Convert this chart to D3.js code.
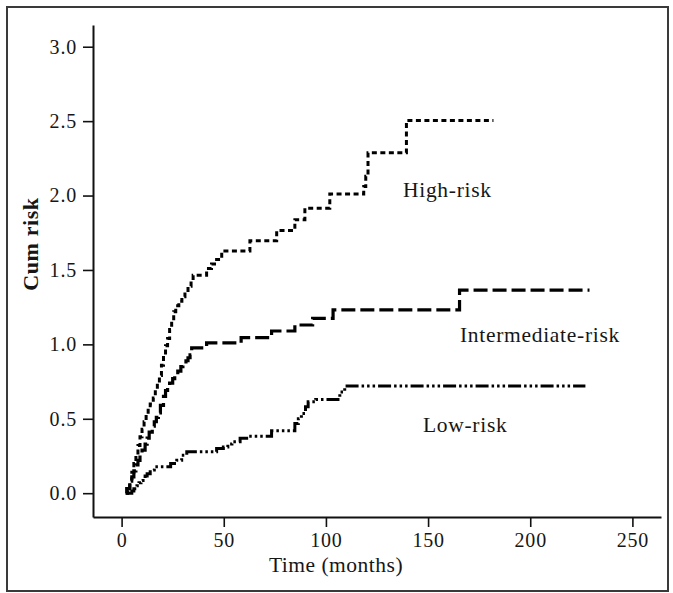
<!DOCTYPE html>
<html><head><meta charset="utf-8">
<script src="https://cdn.jsdelivr.net/npm/d3@7"></script>
<style>
html,body{margin:0;padding:0;background:#fff;}
svg{display:block;}
text{font-family:"Liberation Serif","Times New Roman",serif;fill:#161616;}
</style></head>
<body>
<svg id="chart" width="673" height="593"></svg>
<script>
// ---- data ----
const xTicks = [0, 50, 100, 150, 200, 250];
const yTicks = [0.0, 0.5, 1.0, 1.5, 2.0, 2.5, 3.0];

const highTime = [2, 3, 4, 5, 6, 7, 8, 9, 10, 11, 12, 13, 14, 15.5, 16.5, 17.5, 18.5, 19.5, 20.5, 21.5, 22.5, 23.5, 24.5, 25.5, 26.5, 28, 29.5, 31, 32.5, 34, 35, 41.6, 44, 46.5, 49, 62.8, 75.9, 84.8, 89.7, 101.9, 118.5, 119.5, 120.6, 139.4, 182];
const highRisk = [0, 0.04, 0.08, 0.14, 0.20, 0.26, 0.32, 0.38, 0.43, 0.48, 0.53, 0.57, 0.60, 0.64, 0.70, 0.74, 0.79, 0.86, 0.93, 0.99, 1.04, 1.10, 1.16, 1.22, 1.26, 1.29, 1.32, 1.35, 1.39, 1.43, 1.465, 1.51, 1.54, 1.57, 1.628, 1.696, 1.765, 1.838, 1.915, 2.01, 2.06, 2.13, 2.287, 2.505, 2.505];

const interTime = [2, 2.5, 4, 5, 6, 7, 8, 9, 10, 11.5, 12.5, 13.5, 15, 16, 17, 18, 19, 20.5, 21.5, 22.5, 23.5, 25, 26, 27.5, 29, 30, 31.5, 32.5, 33.5, 34.3, 41.6, 58.5, 73.4, 84.8, 93.5, 103.5, 165.4, 229];
const interRisk = [0, 0.03, 0.07, 0.11, 0.15, 0.19, 0.22, 0.26, 0.29, 0.33, 0.37, 0.41, 0.45, 0.48, 0.51, 0.54, 0.59, 0.65, 0.69, 0.72, 0.74, 0.77, 0.79, 0.82, 0.85, 0.87, 0.89, 0.91, 0.93, 0.977, 1.01, 1.045, 1.09, 1.13, 1.175, 1.232, 1.365, 1.365];

const lowTime = [3, 5, 6, 7.5, 8.5, 9.5, 10.5, 11.5, 12.5, 14, 16, 24, 27, 29.4, 31.9, 46.5, 49.8, 52, 54, 58, 62, 73.4, 84.8, 86.5, 88, 90, 91.3, 95, 106.8, 109.2, 227];
const lowRisk = [0, 0.015, 0.03, 0.05, 0.07, 0.085, 0.10, 0.115, 0.13, 0.155, 0.177, 0.20, 0.222, 0.255, 0.278, 0.30, 0.311, 0.33, 0.345, 0.37, 0.383, 0.419, 0.468, 0.50, 0.536, 0.58, 0.614, 0.63, 0.68, 0.72, 0.72];

const seriesNames = ["High-risk", "Intermediate-risk", "Low-risk"];

// ---- drawing ----
const svg = d3.select("#chart");

// outer frame
svg.append("rect").attr("x", 7).attr("y", 7).attr("width", 661).attr("height", 584)
  .attr("fill", "none").attr("stroke", "#3a3a3a").attr("stroke-width", 2);

const x = d3.scaleLinear().domain([-14, 264]).range([93, 661]);
const y = d3.scaleLinear().domain([-0.16, 3.146]).range([517, 25]);

const yAxis = svg.append("g").attr("transform", "translate(93,0)")
  .call(d3.axisLeft(y).tickValues(yTicks).tickFormat(d3.format(".1f"))
    .tickSize(10).tickSizeOuter(0).tickPadding(6));
const xAxis = svg.append("g").attr("transform", "translate(0,517)")
  .call(d3.axisBottom(x).tickValues(xTicks).tickFormat(d3.format("d"))
    .tickSize(10).tickSizeOuter(0).tickPadding(6));

[xAxis, yAxis].forEach(g => {
  g.select(".domain").attr("stroke", "#111").attr("stroke-width", 2);
  g.selectAll(".tick line").attr("stroke", "#111").attr("stroke-width", 1.6);
  g.selectAll(".tick text").attr("font-family", "Liberation Serif")
    .attr("font-size", 20).attr("letter-spacing", 0.8).attr("fill", "#161616");
});

// axis titles
svg.append("text").attr("x", 336).attr("y", 572).attr("text-anchor", "middle")
  .attr("font-size", 21.5).attr("letter-spacing", 0.5).text("Time (months)");
svg.append("text").attr("transform", "translate(38,244) rotate(-90)")
  .attr("text-anchor", "middle").attr("font-size", 22).attr("font-weight", "bold")
  .attr("letter-spacing", 0.6).text("Cum risk");

// curves
const line = d3.line().x(d => x(d[0])).y(d => y(d[1])).curve(d3.curveStepAfter);
const series = [
  {name: seriesNames[0], t: highTime, v: highRisk, dash: "5,3.5", w: 3},
  {name: seriesNames[1], t: interTime, v: interRisk, dash: "14,5", w: 3.2},
  {name: seriesNames[2], t: lowTime, v: lowRisk, dash: "13,3,2.5,3,2.5,3,2.5,3", w: 3}
];
series.forEach(s => {
  svg.append("path").datum(s.t.map((t, i) => [t, s.v[i]]))
    .attr("d", line).attr("fill", "none").attr("stroke", "#000")
    .attr("stroke-width", s.w).attr("stroke-dasharray", s.dash);
});

// curve labels
const labelPos = [[403, 197], [460, 342], [423, 432]];
seriesNames.forEach((n, i) => {
  svg.append("text").attr("x", labelPos[i][0]).attr("y", labelPos[i][1])
    .attr("font-size", 21.5).attr("letter-spacing", 0.7).text(n);
});
</script>
</body></html>
